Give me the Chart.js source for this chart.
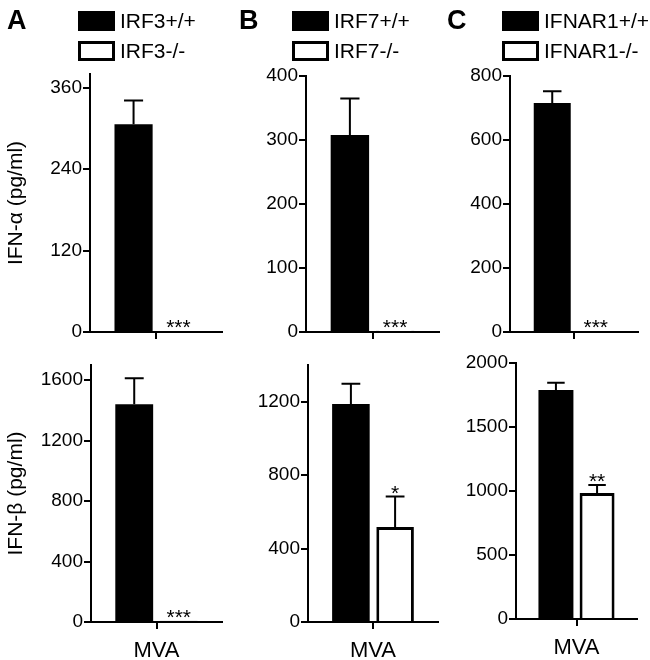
<!DOCTYPE html>
<html>
<head>
<meta charset="utf-8">
<script src="https://cdn.jsdelivr.net/npm/chart.js@4.4.1/dist/chart.umd.min.js"></script>
<style>
  html, body { margin: 0; padding: 0; background: #fff; }
  #fig { position: relative; width: 650px; height: 660px; overflow: hidden; }
  #fig canvas { position: absolute; }
</style>
</head>
<body>
<div id="fig">
  <canvas id="a-alpha"></canvas>
  <canvas id="a-beta"></canvas>
  <canvas id="b-alpha"></canvas>
  <canvas id="b-beta"></canvas>
  <canvas id="c-alpha"></canvas>
  <canvas id="c-beta"></canvas>
</div>
<script>
// --- data ---
const groupLabels = ['MVA'];

const seriesA = ['IRF3+/+', 'IRF3-/-'];
const seriesB = ['IRF7+/+', 'IRF7-/-'];
const seriesC = ['IFNAR1+/+', 'IFNAR1-/-'];

// IFN-alpha (pg/ml), [wild type, knockout]
const alphaA = [306, 1.5];
const alphaErrA = [35, 0];
const alphaSigA = ['', '***'];
const alphaB = [308, 2];
const alphaErrB = [57, 0];
const alphaSigB = ['', '***'];
const alphaC = [716, 3];
const alphaErrC = [36, 0];
const alphaSigC = ['', '***'];

// IFN-beta (pg/ml)
const betaA = [1440, 8];
const betaErrA = [173, 0];
const betaSigA = ['', '***'];
const betaB = [1188, 518];
const betaErrB = [110, 165];
const betaSigB = ['', '*'];
const betaC = [1790, 984];
const betaErrC = [55, 63];
const betaSigC = ['', '**'];

// axis ranges and ticks
const alphaMaxA = 380, alphaTicksA = [0, 120, 240, 360];
const alphaMaxB = 400, alphaTicksB = [0, 100, 200, 300, 400];
const alphaMaxC = 800, alphaTicksC = [0, 200, 400, 600, 800];
const betaMaxA = 1700, betaTicksA = [0, 400, 800, 1200, 1600];
const betaMaxB = 1400, betaTicksB = [0, 400, 800, 1200];
const betaMaxC = 2000, betaTicksC = [0, 500, 1000, 1500, 2000];

const yTitleAlpha = 'IFN-\u03B1 (pg/ml)';
const yTitleBeta = 'IFN-\u03B2 (pg/ml)';

const FONT = '"Liberation Sans", Arial, Helvetica, sans-serif';
Chart.defaults.font.family = FONT;
Chart.defaults.color = '#000';

// error bars (upward only) + significance stars
const errorBars = {
    id: 'errorBars',
    afterDatasetsDraw(chart, args, opts) {
        const ctx = chart.ctx;
        const y = chart.scales.y;
        ctx.save();
        ctx.strokeStyle = '#000';
        ctx.lineWidth = 2;
        chart.data.datasets.forEach((ds, i) => {
            chart.getDatasetMeta(i).data.forEach((bar, j) => {
                const v = ds.data[j];
                const e = (opts.errors[i] || [])[j] || 0;
                const yv = y.getPixelForValue(v);
                const yt = y.getPixelForValue(v + e);
                if (e > 0) {
                    const half = bar.width * 0.25;
                    ctx.beginPath();
                    ctx.moveTo(bar.x, yv);
                    ctx.lineTo(bar.x, yt);
                    ctx.moveTo(bar.x - half, yt);
                    ctx.lineTo(bar.x + half, yt);
                    ctx.stroke();
                }
                const s = (opts.sig[i] || [])[j];
                if (s) {
                    ctx.fillStyle = '#000';
                    ctx.font = '21px ' + FONT;
                    ctx.textAlign = 'center';
                    ctx.textBaseline = 'alphabetic';
                    ctx.fillText(s, bar.x, Math.min(yt, yv) + 3);
                }
            });
        });
        ctx.restore();
    }
};

// panel letter and the two-row legend above the top charts
const panelDecor = {
    id: 'panelDecor',
    afterDraw(chart, args, opts) {
        if (!opts.letter) return;
        const ctx = chart.ctx;
        ctx.save();
        ctx.fillStyle = '#000';
        ctx.font = 'bold 27px ' + FONT;
        ctx.textAlign = 'left';
        ctx.textBaseline = 'alphabetic';
        ctx.fillText(opts.letter, opts.letterX, 29);

        ctx.font = '21px ' + FONT;
        ctx.textBaseline = 'middle';
        chart.data.datasets.forEach((ds, i) => {
            const bx = opts.legendX, by = 11 + i * 30, bw = 37, bh = 20;
            if (i === 0) {
                ctx.fillStyle = '#000';
                ctx.fillRect(bx, by, bw, bh);
            } else {
                ctx.fillStyle = '#fff';
                ctx.fillRect(bx, by, bw, bh);
                ctx.strokeStyle = '#000';
                ctx.lineWidth = 3;
                ctx.strokeRect(bx + 1.5, by + 1.5, bw - 3, bh - 3);
            }
            ctx.fillStyle = '#000';
            ctx.fillText(ds.label, bx + bw + 5, by + bh / 2 + 1);
        });
        ctx.restore();
    }
};

const panels = [
    { id: 'a-alpha', x: 0, y: 0, w: 230, h: 345, area: { l: 90, r: 222, t: 74, b: 332 },
      series: seriesA, values: alphaA, errs: alphaErrA, sig: alphaSigA, yMax: alphaMaxA, ticks: alphaTicksA,
      yTitle: yTitleAlpha, showX: false, letter: 'A', letterX: 7, legendX: 78 },
    { id: 'a-beta', x: 0, y: 345, w: 230, h: 315, area: { l: 91, r: 222, t: 365, b: 622 },
      series: seriesA, values: betaA, errs: betaErrA, sig: betaSigA, yMax: betaMaxA, ticks: betaTicksA,
      yTitle: yTitleBeta, showX: true },
    { id: 'b-alpha', x: 230, y: 0, w: 215, h: 345, area: { l: 306, r: 439, t: 76, b: 332 },
      series: seriesB, values: alphaB, errs: alphaErrB, sig: alphaSigB, yMax: alphaMaxB, ticks: alphaTicksB,
      showX: false, letter: 'B', letterX: 9, legendX: 62 },
    { id: 'b-beta', x: 230, y: 345, w: 215, h: 315, area: { l: 308, r: 438, t: 365, b: 622 },
      series: seriesB, values: betaB, errs: betaErrB, sig: betaSigB, yMax: betaMaxB, ticks: betaTicksB,
      showX: true },
    { id: 'c-alpha', x: 445, y: 0, w: 205, h: 345, area: { l: 510, r: 638, t: 76, b: 332 },
      series: seriesC, values: alphaC, errs: alphaErrC, sig: alphaSigC, yMax: alphaMaxC, ticks: alphaTicksC,
      showX: false, letter: 'C', letterX: 2, legendX: 57 },
    { id: 'c-beta', x: 445, y: 345, w: 205, h: 315, area: { l: 516, r: 637, t: 363, b: 619 },
      series: seriesC, values: betaC, errs: betaErrC, sig: betaSigC, yMax: betaMaxC, ticks: betaTicksC,
      showX: true }
];

function makePanel(p) {
    const canvas = document.getElementById(p.id);
    canvas.width = p.w;
    canvas.height = p.h;
    canvas.style.left = p.x + 'px';
    canvas.style.top = p.y + 'px';
    canvas.style.width = p.w + 'px';
    canvas.style.height = p.h + 'px';

    const yAxisW = p.area.l - p.x;
    const rightPad = p.x + p.w - p.area.r;
    const topPad = p.area.t - p.y;
    const xAxisH = p.y + p.h - p.area.b;

    const axisGrid = { display: true, drawOnChartArea: false, drawTicks: true, tickLength: 7,
                       color: '#000', lineWidth: 2, offset: false };
    const axisBorder = { display: true, color: '#000', width: 2 };

    new Chart(canvas, {
        type: 'bar',
        data: {
            labels: groupLabels,
            datasets: [
                { label: p.series[0], data: [p.values[0]], backgroundColor: '#000',
                  borderColor: '#000', borderWidth: 0 },
                { label: p.series[1], data: [p.values[1]], backgroundColor: '#fff',
                  borderColor: '#000', borderWidth: 3 }
            ]
        },
        options: {
            responsive: false,
            animation: false,
            events: [],
            categoryPercentage: 0.68,
            barPercentage: 0.85,
            layout: { padding: { left: 0, right: rightPad, top: topPad, bottom: 0 } },
            plugins: {
                legend: { display: false },
                tooltip: { enabled: false },
                errorBars: { errors: [[p.errs[0]], [p.errs[1]]], sig: [[p.sig[0]], [p.sig[1]]] },
                panelDecor: { letter: p.letter, letterX: p.letterX, legendX: p.legendX }
            },
            scales: {
                x: {
                    grid: axisGrid,
                    border: axisBorder,
                    ticks: { display: p.showX, color: '#000', font: { size: 22 }, padding: 9 },
                    afterFit: s => { s.height = xAxisH; }
                },
                y: {
                    min: 0,
                    max: p.yMax,
                    grid: axisGrid,
                    border: axisBorder,
                    ticks: { color: '#000', font: { size: 19 }, padding: 1,
                             callback: v => String(v) },
                    afterBuildTicks: s => { s.ticks = p.ticks.map(v => ({ value: v })); },
                    afterFit: s => { s.width = yAxisW; },
                    title: {
                        display: !!p.yTitle,
                        text: p.yTitle || '',
                        color: '#000',
                        font: { size: 21 },
                        padding: { top: 4, bottom: 0 }
                    }
                }
            }
        },
        plugins: [errorBars, panelDecor]
    });
}

panels.forEach(makePanel);
</script>
</body>
</html>
